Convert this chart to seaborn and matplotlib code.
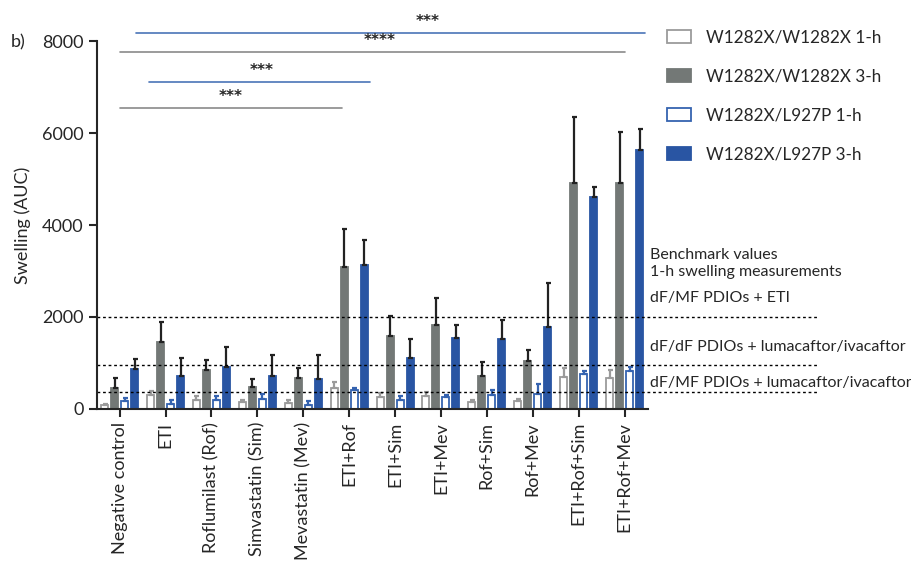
import numpy as np
import pandas as pd
import matplotlib
matplotlib.use('Agg')
import matplotlib.pyplot as plt
import seaborn as sns
from matplotlib.patches import Patch


groups = ['Negative control', 'ETI', 'Roflumilast (Rof)', 'Simvastatin (Sim)', 'Mevastatin (Mev)',
          'ETI+Rof', 'ETI+Sim', 'ETI+Mev', 'Rof+Sim', 'Rof+Mev', 'ETI+Rof+Sim', 'ETI+Rof+Mev']
series = ['W1282X/W1282X 1-h', 'W1282X/W1282X 3-h', 'W1282X/L927P 1-h', 'W1282X/L927P 3-h']

hom_1h = [90, 300, 200, 140, 120, 450, 260, 280, 140, 165, 690, 675]
hom_1h_err = [25, 100, 70, 50, 70, 125, 85, 95, 60, 60, 210, 165]
hom_3h = [457, 1460, 850, 480, 670, 3090, 1590, 1825, 720, 1045, 4920, 4920]
hom_3h_err = [213, 430, 215, 170, 215, 815, 440, 595, 290, 230, 1420, 1110]
het_1h = [170, 115, 195, 210, 95, 405, 190, 250, 305, 335, 755, 820]
het_1h_err = [70, 85, 75, 110, 75, 60, 85, 50, 105, 200, 65, 90]
het_3h = [870, 720, 915, 720, 650, 3135, 1110, 1545, 1520, 1780, 4610, 5630]
het_3h_err = [210, 395, 430, 445, 530, 530, 420, 275, 410, 965, 225, 460]

bench_vals = [2000, 950, 370]
bench_labels = ['dF/MF PDIOs + ETI', 'dF/dF PDIOs + lumacaftor/ivacaftor', 'dF/MF PDIOs + lumacaftor/ivacaftor']

# significance brackets: x start, x end, y, stars, colour
sig_lines = [(0.36, 11.45, 8174, '***', 'blue'),
             (0.0, 11.0, 7760, '****', 'gray'),
             (0.63, 5.46, 7110, '***', 'blue'),
             (0.0, 4.84, 6545, '***', 'gray')]
sig_text_x = [6.7, 5.67, 3.1, 2.41]

values = [hom_1h, hom_3h, het_1h, het_3h]
errors = [hom_1h_err, hom_3h_err, het_1h_err, het_3h_err]

df = pd.DataFrame({
    'group': groups * 4,
    'series': np.repeat(series, len(groups)),
    'value': np.concatenate(values),
})

gray = '#737876'
blue = '#2955a3'
face_colors = ['white', gray, 'white', blue]
edge_colors = ['#9b9b9b', gray, '#3563b0', blue]
err_colors = ['#9b9b9b', '#222222', '#3563b0', '#222222']
line_colors = {'blue': '#4a74b8', 'gray': '#8a8a8a'}

sns.set_style('ticks')
plt.rcParams['font.family'] = ['Lato', 'DejaVu Sans']

fig = plt.figure(figsize=(9.12, 5.64), dpi=100)
ax = fig.add_axes([0.106, 0.275, 0.604, 0.652])

sns.barplot(data=df, x='group', y='value', hue='series', order=groups, hue_order=series,
            palette=face_colors, saturation=1, width=0.87, gap=0.3, errorbar=None,
            legend=False, ax=ax)

for cont, ec, errc, err in zip(ax.containers, edge_colors, err_colors, errors):
    for p in cont:
        p.set_edgecolor(ec)
        p.set_linewidth(1.3)
    xs = [p.get_x() + p.get_width() / 2 for p in cont]
    hs = [p.get_height() for p in cont]
    ax.errorbar(xs, hs, yerr=[np.zeros(len(err)), err], fmt='none', ecolor=errc,
                elinewidth=1.6, capsize=1.8, capthick=1.6, zorder=1)

ax.set_xlim(-0.5, 11.5)
ax.set_ylim(0, 8000)
ax.set_yticks([0, 2000, 4000, 6000, 8000])
ax.set_xlabel('')
ax.set_ylabel('Swelling (AUC)', fontsize=13, labelpad=8)
ax.tick_params(axis='x', labelrotation=90, labelsize=13, length=6, width=1.5)
ax.tick_params(axis='y', labelsize=13, length=6, width=1.5)
sns.despine(ax=ax)
for s in ['left', 'bottom']:
    ax.spines[s].set_linewidth(1.5)

# benchmark dotted lines
for v in bench_vals:
    ax.plot([0, 1.31], [v, v], transform=ax.get_yaxis_transform(), color='black',
            lw=1, ls=(0, (2, 2)), clip_on=False)
ax.text(1.005, 3350, 'Benchmark values', transform=ax.get_yaxis_transform(), fontsize=11.5, va='center')
ax.text(1.005, 2980, '1-h swelling measurements', transform=ax.get_yaxis_transform(), fontsize=11.5, va='center')
for v, lab, y in zip(bench_vals, bench_labels, [2410, 1350, 565]):
    ax.text(1.005, y, lab, transform=ax.get_yaxis_transform(), fontsize=11.5, va='center')

# significance lines
for (x0, x1, y, stars, c), tx in zip(sig_lines, sig_text_x):
    ax.plot([x0, x1], [y, y], color=line_colors[c], lw=1.2, clip_on=False)
    ax.text(tx, y + 250, stars, ha='center', va='center', fontsize=11,
            fontweight='bold', family='DejaVu Sans')

fig.text(0.012, 0.925, 'b)', fontsize=13, va='center')

handles = [Patch(facecolor=f, edgecolor=e, linewidth=1.3) for f, e in zip(face_colors, edge_colors)]
fig.legend(handles, series, loc='upper left', bbox_to_anchor=(0.715, 0.975), frameon=False,
           fontsize=12.3, handlelength=1.4, handleheight=0.8, labelspacing=1.35, handletextpad=0.85)

fig.savefig('out.png', dpi=100)
